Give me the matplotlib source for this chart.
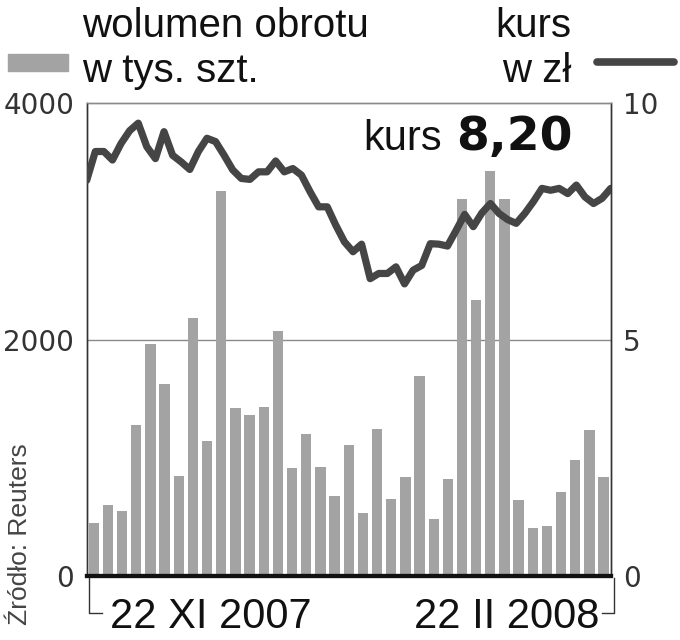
import numpy as np
import matplotlib
matplotlib.use("Agg")
import matplotlib.pyplot as plt
from matplotlib.lines import Line2D
from matplotlib.patches import Rectangle

# Weekly turnover in thousands of shares (bars)
volume = [452, 602, 546, 1281, 1965, 1625, 842, 2185, 1145, 3257,
          1419, 1363, 1433, 2075, 913, 1201, 919, 678, 1108, 537,
          1241, 653, 834, 1696, 481, 825, 3189, 2338, 3429, 3189,
          647, 410, 427, 710, 984, 1233, 840]

# Share price in zl (line, sampled more densely than the bars)
kurs = [8.37, 8.98, 8.98, 8.80, 9.15, 9.42, 9.58, 9.08, 8.83, 9.40,
        8.90, 8.76, 8.60, 8.98, 9.26, 9.19, 8.90, 8.59, 8.41, 8.39,
        8.55, 8.55, 8.78, 8.55, 8.62, 8.48, 8.13, 7.81, 7.81, 7.42,
        7.07, 6.86, 7.02, 6.29, 6.40, 6.40, 6.54, 6.18, 6.47, 6.57,
        7.03, 7.02, 6.98, 7.31, 7.65, 7.39, 7.68, 7.88, 7.67, 7.54,
        7.46, 7.67, 7.92, 8.20, 8.16, 8.20, 8.09, 8.27, 8.02, 7.88,
        7.99, 8.20]

left_ticks = [0, 2000, 4000]
right_ticks = [0, 5, 10]
date_labels = ["22 XI 2007", "22 II 2008"]
last_price = "8,20"

BAR_COLOR = "#a2a3a2"
LINE_COLOR = "#454545"
W, H = 680, 640


def px(x, y):
    # pixel position (from top-left) -> figure fraction
    return x / W, 1 - y / H


fig = plt.figure(figsize=(6.8, 6.4), dpi=100)
ax = fig.add_axes([86.7 / W, 1 - 576 / H, 524 / W, 472.7 / H])
ax2 = ax.twinx()

n = len(volume)
ax.bar(np.arange(n), volume, width=0.73, color=BAR_COLOR, zorder=2)
ax.set_xlim(-0.5, n - 0.5)
ax.set_ylim(0, 4000)
ax.axhline(2000, color="#8a8a8a", lw=1.0, zorder=1)

x_line = np.linspace(-0.5, n - 0.5, len(kurs))
ax2.plot(x_line, kurs, color=LINE_COLOR, lw=5.2, solid_joinstyle="round",
         solid_capstyle="round", zorder=3)
ax2.set_ylim(0, 10)

for a in (ax, ax2):
    a.set_xticks([])
    a.tick_params(length=0, pad=9)
    a.spines["top"].set_color("#8a8a8a")
    a.spines["top"].set_linewidth(1.0)
    a.spines["left"].set_color("#333333")
    a.spines["left"].set_linewidth(1.0)
    a.spines["right"].set_color("#333333")
    a.spines["right"].set_linewidth(1.0)
    a.spines["bottom"].set_color("#111111")
    a.spines["bottom"].set_linewidth(3.0)

ax.set_yticks(left_ticks)
ax.set_yticklabels([str(t) for t in left_ticks], fontsize=20, color="#333333")
ax2.set_yticks(right_ticks)
ax2.set_yticklabels([str(t) for t in right_ticks], fontsize=20, color="#333333")

# price annotation
ax2.text(*px(363, 150), "kurs", transform=fig.transFigure, family="Liberation Sans",
         fontsize=30, color="#111111", va="baseline", ha="left")
ax2.text(*px(456, 150), last_price, transform=fig.transFigure, family="DejaVu Sans",
         fontweight="bold", fontsize=34, color="#111111", va="baseline", ha="left")

# header / legend
hdr = dict(family="Liberation Sans", fontsize=29, color="#111111", va="baseline")
fig.text(*px(82, 37), "wolumen obrotu", ha="left", **hdr)
fig.text(*px(82, 82), "w tys. szt.", ha="left", **hdr)
fig.text(*px(571, 37), "kurs", ha="right", **hdr)
fig.text(*px(571, 82), "w zł", ha="right", **hdr)

x0, y0 = px(8, 71)
fig.patches.append(Rectangle((x0, y0), 60 / W, 17 / H, transform=fig.transFigure,
                             color=BAR_COLOR))
lx0, ly = px(597, 62)
lx1, _ = px(674, 62)
fig.lines.append(Line2D([lx0, lx1], [ly, ly], transform=fig.transFigure,
                        color=LINE_COLOR, lw=5.5, solid_capstyle="round"))

# source
fig.text(*px(20, 625), "Źródło: Reuters", rotation=90, family="Liberation Sans",
         fontsize=19, color="#444444", ha="center", va="bottom")

# date labels with brackets
fig.text(*px(110, 628), date_labels[0], family="Liberation Sans", fontsize=30,
         color="#111111", ha="left", va="baseline")
fig.text(*px(599, 628), date_labels[1], family="Liberation Sans", fontsize=30,
         color="#111111", ha="right", va="baseline")

for xs, ys in (([89.3, 89.3, 101.7], [578, 612.7, 612.7]),
               ([614.3, 614.3, 601.7], [578, 612.7, 612.7])):
    pts = [px(x, y) for x, y in zip(xs, ys)]
    fig.lines.append(Line2D([p[0] for p in pts], [p[1] for p in pts],
                            transform=fig.transFigure, color="#333333", lw=1.0))

fig.savefig("out.png", dpi=100)
